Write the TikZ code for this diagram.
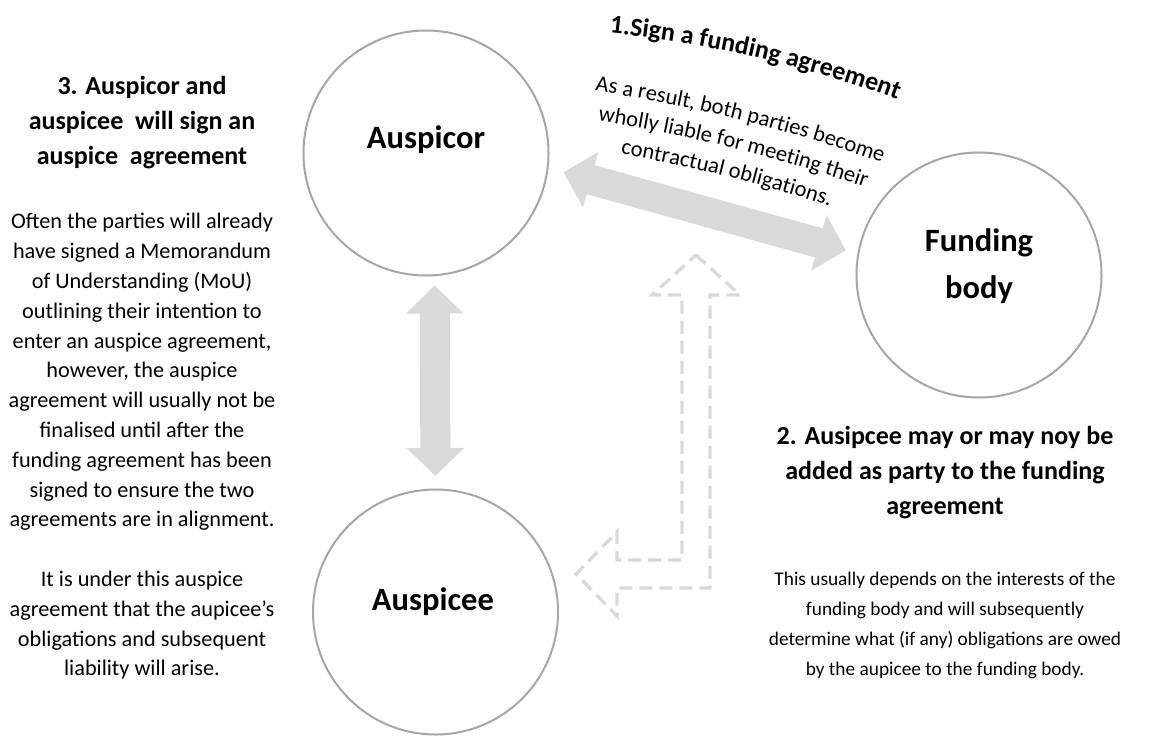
\documentclass[tikz,border=0pt]{standalone}
\usepackage{fontspec}
\setmainfont{Carlito}
\usepackage{tikz}
\usetikzlibrary{arrows.meta, positioning, calc, decorations.text}
\definecolor{ringgrey}{HTML}{A6A6A6}
\definecolor{arrowgrey}{HTML}{D9D9D9}
\newcommand{\headfont}{\bfseries\fontsize{19.5pt}{26.25pt}\selectfont}
\newcommand{\notefont}{\fontsize{16.7pt}{22.35pt}\selectfont}
\newcommand{\sidefont}{\fontsize{14.5pt}{22.5pt}\selectfont}
\newcommand{\partyfont}{\bfseries\fontsize{24.4pt}{35.25pt}\selectfont}
\newcommand{\archfont}{\fontsize{16.9pt}{20pt}\selectfont}
\newcommand{\archhead}{\bfseries\fontsize{19.5pt}{24pt}\selectfont}

\begin{document}
\begin{tikzpicture}[x=0.75pt, y=0.75pt,
    party/.style={circle, draw=ringgrey, line width=1.5pt, minimum size=183.75pt, inner sep=0pt},
    partyname/.style={font=\partyfont, align=center, inner sep=0pt},
    blockarrow/.style={draw=arrowgrey, line width=22.5pt, {Triangle[length=21pt, width=42pt]}-{Triangle[length=21pt, width=42pt]}},
    hollowarrow/.style={draw=arrowgrey, line width=2.5pt, dash pattern=on 9.75pt off 5.25pt},
    archtext/.style={decorate, decoration={text along path, text align=center, text={#1}}},
    note/.style={align=center, inner sep=0pt}]
  \useasboundingbox[fill=white] (0,0) rectangle (1153,-736);

  % the three parties
  \node[party] (auspicor) at (426,-153) {};
  \node[party] (auspicee) at (435.5,-612) {};
  \node[party] (funding) at (979,-275) {};
  \node[partyname, anchor=base] (auspicorname) at ([yshift=3.75pt]auspicor.center) {Auspicor};
  \node[partyname, anchor=base] (auspiceename) at ([xshift=-1.9pt, yshift=1.5pt]auspicee.center) {Auspicee};
  \node[partyname] (fundingname) at ([yshift=6.75pt]funding.center) {Funding\\body};

  % connectors
  \draw[blockarrow, shorten <=11.7pt, shorten >=9pt] (auspicor.-7.4) -- (funding.170.7);
  \draw[blockarrow, shorten <=7pt, shorten >=9.4pt] (auspicor.-86) -- (auspicee.north);
  \draw[hollowarrow] (696,-255) -- (740,-295) -- (710,-295) -- (710,-588) -- (617,-588)
    -- (617,-616) -- (576,-574) -- (617,-532) -- (617,-560) -- (682,-560) -- (682,-295)
    -- (652,-295) -- cycle;

  % step 1, set on arcs
  \coordinate (archcentre) at (353,-1672.5);
  \path[archtext={|\archhead|1.Sign a funding agreement}]
    (483.8,-1233.4) ++(86:1207) arc[start angle=86, end angle=68, radius=1207];
  \path[archtext={|\archfont|As a result, both parties become}]
    (archcentre) ++(82:1600) arc[start angle=82, end angle=70, radius=1600];
  \path[archtext={|\archfont|wholly liable for meeting their}]
    (archcentre) ++(82:1571) arc[start angle=82, end angle=70, radius=1571];
  \path[archtext={|\archfont|contractual obligations.}]
    (archcentre) ++(82:1542) arc[start angle=82, end angle=70, radius=1542];

  % step 2
  \node[note, font=\headfont] (addedhead) at (945,-473)
    {2. Ausipcee may or may noy be\\added as party to the funding\\agreement};
  \node[note, font=\sidefont] (addednote) at (945,-625)
    {This usually depends on the interests of the\\funding body and will subsequently\\determine what (if any) obligations are owed\\by the aupicee to the funding body.};

  % step 3
  \node[note, font=\headfont] (auspicehead) at (142,-123)
    {3. Auspicor and\\auspicee~ will sign an\\auspice~ agreement};
  \node[note, font=\notefont] (auspicenote) at (142,-446.5)
    {Often the parties will already\\have signed a Memorandum\\of Understanding (MoU)\\outlining their intention to\\enter an auspice agreement,\\however, the auspice\\agreement will usually not be\\finalised until after the\\funding agreement has been\\signed to ensure the two\\agreements are in alignment.\\[22.35pt]It is under this auspice\\agreement that the aupicee’s\\obligations and subsequent\\liability will arise.};
\end{tikzpicture}
\end{document}
